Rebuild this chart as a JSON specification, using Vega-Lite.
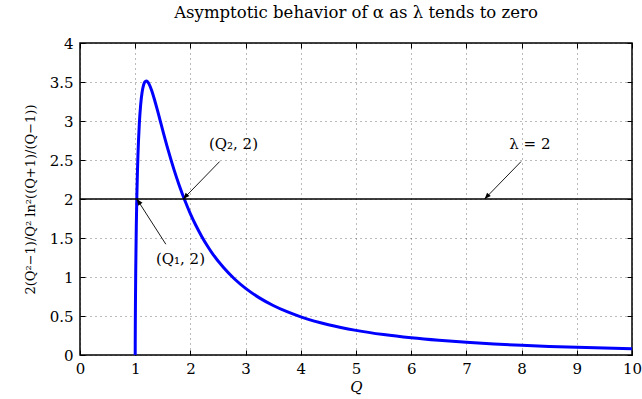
{
  "$schema": "https://vega.github.io/schema/vega-lite/v6.json",
  "autosize": "none",
  "width": 552,
  "height": 312,
  "padding": {"left": 80, "top": 43, "right": 10, "bottom": 44},
  "background": "white",
  "title": {"text": "Asymptotic behavior of α as λ tends to zero", "font": "DejaVu Serif", "fontSize": 16.5, "fontWeight": "normal", "color": "black", "offset": 15, "anchor": "middle"},
  "config": {
    "view": {"stroke": "black", "strokeWidth": 1.5},
    "axis": {"labelFont": "DejaVu Serif", "labelFontSize": 15, "labelColor": "black", "tickColor": "black", "tickSize": -5, "tickWidth": 1, "domain": false, "grid": true, "gridDash": [1, 4], "gridColor": "#000", "gridOpacity": 0.6, "gridWidth": 0.9, "titleFont": "DejaVu Serif", "titleFontSize": 15, "titleFontWeight": "normal", "titleColor": "black"}
  },
  "datasets": {
    "curve": [
      {"x": 1.0, "y": 0}, {"x": 1.0005, "y": 0.1375}, {"x": 1.001, "y": 0.2309}, {"x": 1.002, "y": 0.3807},
      {"x": 1.005, "y": 0.713}, {"x": 1.01, "y": 1.108}, {"x": 1.02, "y": 1.654}, {"x": 1.03, "y": 2.039},
      {"x": 1.04, "y": 2.333}, {"x": 1.05, "y": 2.564}, {"x": 1.06, "y": 2.751}, {"x": 1.075, "y": 2.969},
      {"x": 1.1, "y": 3.217}, {"x": 1.125, "y": 3.369}, {"x": 1.15, "y": 3.458}, {"x": 1.175, "y": 3.501},
      {"x": 1.2, "y": 3.514}, {"x": 1.225, "y": 3.503}, {"x": 1.25, "y": 3.476}, {"x": 1.3, "y": 3.388},
      {"x": 1.35, "y": 3.273}, {"x": 1.4, "y": 3.145}, {"x": 1.45, "y": 3.012}, {"x": 1.5, "y": 2.878},
      {"x": 1.6, "y": 2.62}, {"x": 1.7, "y": 2.383}, {"x": 1.8, "y": 2.17}, {"x": 1.9, "y": 1.98},
      {"x": 2.0, "y": 1.81}, {"x": 2.1, "y": 1.66}, {"x": 2.2, "y": 1.527}, {"x": 2.3, "y": 1.4075},
      {"x": 2.4, "y": 1.301}, {"x": 2.6, "y": 1.121}, {"x": 2.8, "y": 0.974}, {"x": 3.0, "y": 0.854},
      {"x": 3.25, "y": 0.7324}, {"x": 3.5, "y": 0.6346}, {"x": 3.75, "y": 0.5549}, {"x": 4.0, "y": 0.4893},
      {"x": 4.5, "y": 0.3884}, {"x": 5.0, "y": 0.3157}, {"x": 5.5, "y": 0.2615}, {"x": 6.0, "y": 0.2201},
      {"x": 6.5, "y": 0.1878}, {"x": 7.0, "y": 0.1621}, {"x": 7.5, "y": 0.1414}, {"x": 8.0, "y": 0.1243},
      {"x": 8.5, "y": 0.1102}, {"x": 9.0, "y": 0.0984}, {"x": 9.5, "y": 0.0883}, {"x": 10.0, "y": 0.0797}
    ],
    "hline": [{"x": 0, "x2": 10, "y": 2}],
    "arrows": [
      {"label": "(Q₂, 2)", "tx": 2.78, "ty": 2.7, "x": 2.53, "y": 2.48, "x2": 1.87, "y2": 2.0, "dir": "a"},
      {"label": "(Q₁, 2)", "tx": 1.82, "ty": 1.23, "x": 1.555, "y": 1.42, "x2": 1.03, "y2": 2.0, "dir": "b"},
      {"label": "λ = 2", "tx": 8.15, "ty": 2.7, "x": 7.99, "y": 2.48, "x2": 7.33, "y2": 2.0, "dir": "a"}
    ]
  },
  "resolve": {"axis": {"x": "independent", "y": "independent"}},
  "layer": [
    {
      "data": {"name": "curve"},
      "mark": {"type": "line", "color": "#0000ff", "strokeWidth": 3, "interpolate": "monotone"},
      "encoding": {
        "x": {"field": "x", "type": "quantitative", "scale": {"domain": [0, 10], "nice": false}, "axis": {"values": [0,1,2,3,4,5,6,7,8,9,10], "format": "~f", "title": "Q", "titleFontStyle": "italic", "labelPadding": 11, "titlePadding": 3, "labelFlush": false}},
        "y": {"field": "y", "type": "quantitative", "scale": {"domain": [0, 4], "nice": false}, "axis": {"values": [0,0.5,1,1.5,2,2.5,3,3.5,4], "format": "~f", "title": "2(Q²−1)/Q² ln²((Q+1)/(Q−1))", "titleFontSize": 13, "labelPadding": 12, "titlePadding": 12, "labelFlush": false}}
      }
    },
    {
      "data": {"name": "hline"},
      "mark": {"type": "rule", "color": "black", "strokeWidth": 1.7},
      "encoding": {
        "x": {"field": "x", "type": "quantitative", "scale": {"domain": [0, 10], "nice": false}, "axis": {"orient": "top", "values": [0,1,2,3,4,5,6,7,8,9,10], "labels": false, "grid": false, "title": null}},
        "x2": {"field": "x2"},
        "y": {"field": "y", "type": "quantitative", "scale": {"domain": [0, 4], "nice": false}, "axis": {"orient": "right", "values": [0,0.5,1,1.5,2,2.5,3,3.5,4], "labels": false, "grid": false, "title": null}}
      }
    },
    {
      "data": {"name": "arrows"},
      "mark": {"type": "rule", "color": "black", "strokeWidth": 0.9},
      "encoding": {
        "x": {"field": "x", "type": "quantitative", "scale": {"domain": [0, 10], "nice": false}, "axis": null},
        "y": {"field": "y", "type": "quantitative", "scale": {"domain": [0, 4], "nice": false}, "axis": null},
        "x2": {"field": "x2"},
        "y2": {"field": "y2"}
      }
    },
    {
      "data": {"name": "arrows"},
      "transform": [{"filter": "datum.dir == 'a'"}],
      "mark": {"type": "point", "shape": "M0,0 L-0.4,1 L0.4,1 Z", "filled": true, "color": "black", "size": 160, "opacity": 1, "angle": 223},
      "encoding": {
        "x": {"field": "x2", "type": "quantitative", "scale": {"domain": [0, 10], "nice": false}, "axis": null},
        "y": {"field": "y2", "type": "quantitative", "scale": {"domain": [0, 4], "nice": false}, "axis": null}
      }
    },
    {
      "data": {"name": "arrows"},
      "transform": [{"filter": "datum.dir == 'b'"}],
      "mark": {"type": "point", "shape": "M0,0 L-0.4,1 L0.4,1 Z", "filled": true, "color": "black", "size": 160, "opacity": 1, "angle": 326},
      "encoding": {
        "x": {"field": "x2", "type": "quantitative", "scale": {"domain": [0, 10], "nice": false}, "axis": null},
        "y": {"field": "y2", "type": "quantitative", "scale": {"domain": [0, 4], "nice": false}, "axis": null}
      }
    },
    {
      "data": {"name": "arrows"},
      "mark": {"type": "text", "font": "DejaVu Serif", "fontSize": 15, "color": "black", "align": "center", "baseline": "middle"},
      "encoding": {
        "x": {"field": "tx", "type": "quantitative", "scale": {"domain": [0, 10], "nice": false}, "axis": null},
        "y": {"field": "ty", "type": "quantitative", "scale": {"domain": [0, 4], "nice": false}, "axis": null},
        "text": {"field": "label"}
      }
    }
  ]
}
